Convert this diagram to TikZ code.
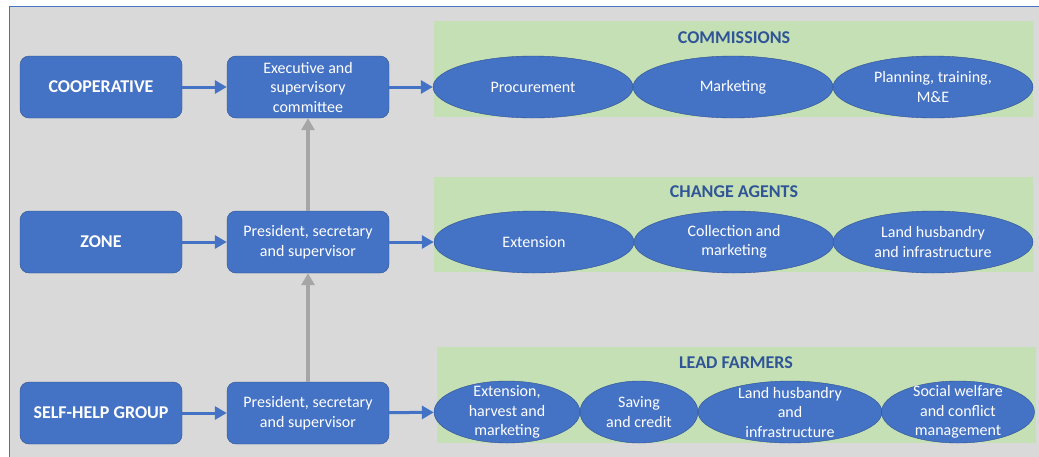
\documentclass[tikz,border=0pt]{standalone}
\usepackage{fontspec}
\setmainfont{Carlito}
\usetikzlibrary{shapes.geometric,arrows.meta}
\definecolor{boxblue}{HTML}{4472C4}
\definecolor{edgeblue}{HTML}{2F528F}
\definecolor{panelgreen}{HTML}{C5E0B4}
\definecolor{titleblue}{HTML}{2F5597}
\definecolor{backgray}{HTML}{D9D9D9}
\definecolor{arrowgray}{HTML}{A6A6A6}
\tikzset{
  level/.style={draw=edgeblue,fill=boxblue,rounded corners=9pt,minimum width=162pt,minimum height=62pt,text=white,font=\fontsize{18}{21}\selectfont\bfseries},
  body/.style={level,font=\fontsize{16}{19.5}\selectfont,align=center},
  task/.style={ellipse,draw=edgeblue,fill=boxblue,inner sep=0pt,minimum height=62pt},
  tasktext/.style={text=white,font=\fontsize{16}{19.5}\selectfont,align=center},
  paneltitle/.style={text=titleblue,font=\fontsize{18}{21}\selectfont\bfseries},
  flow/.style={boxblue,line width=3pt,-{Triangle[length=12pt,width=13pt]}},
  rise/.style={arrowgray,line width=4pt,-{Triangle[length=12pt,width=13pt]}}
}
% ellipse plus its text: name, centre, width, text
\newcommand{\drawtask}[4]{\node[task,minimum width=#3] (#1) at #2 {}; \node[tasktext] (#1-t) at (#1) {#4};}

\begin{document}
\begin{tikzpicture}[x=1pt,y=-1pt]
  \useasboundingbox (0,0) rectangle (1039,456);
  \fill[backgray] (9,6) rectangle (1045,462);
  \draw[boxblue,line width=1pt] (9,462) -- (9,6) -- (1045,6);

  % levels and their organs
  \node[level] (coop) at (101,87) {COOPERATIVE};
  \node[level] (zone) at (101,242) {ZONE};
  \node[level] (shg) at (101,413) {SELF-HELP GROUP};
  \node[body] (exec) at (308,87) {Executive and\\supervisory\\committee};
  \node[body] (zpres) at (308,242) {President, secretary\\and supervisor};
  \node[body] (spres) at (308,413) {President, secretary\\and supervisor};

  % green panels
  \fill[panelgreen] (434,21) rectangle (1033,117);
  \fill[panelgreen] (434,177) rectangle (1033,272);
  \fill[panelgreen] (437,347) rectangle (1036,443);
  \node[paneltitle] (comm) at (734,38) {COMMISSIONS};
  \node[paneltitle] (agents) at (734,192) {CHANGE AGENTS};
  \node[paneltitle] (farmers) at (736,363) {LEAD FARMERS};

  \drawtask{pro}{(533,87)}{200pt}{Procurement}
  \drawtask{mkt}{(733,87)}{200pt}{Marketing}
  \drawtask{plan}{(933,87)}{200pt}{Planning, training,\\M\&E}
  \drawtask{ext}{(534,242)}{200pt}{Extension}
  \drawtask{col}{(734,242)}{200pt}{Collection and\\marketing}
  \drawtask{land}{(933,242)}{200pt}{Land husbandry\\and infrastructure}
  \drawtask{harv}{(507,412)}{146pt}{Extension,\\harvest and\\marketing}
  \drawtask{sav}{(639,412)}{118pt}{Saving\\and credit}
  \drawtask{lhi}{(790,412)}{184pt}{Land husbandry\\and\\infrastructure}
  \drawtask{soc}{(958,412)}{153pt}{Social welfare\\and conflict\\management}

  % arrows
  \draw[flow] (coop) -- (exec);
  \draw[flow] (zone) -- (zpres);
  \draw[flow] (shg) -- (spres);
  \draw[flow] (exec) -- (pro);
  \draw[flow] (zpres) -- (ext);
  \draw[flow] (spres) -- (harv);
  \draw[rise] (spres) -- (zpres);
  \draw[rise] (zpres) -- (exec);
\end{tikzpicture}
\end{document}
